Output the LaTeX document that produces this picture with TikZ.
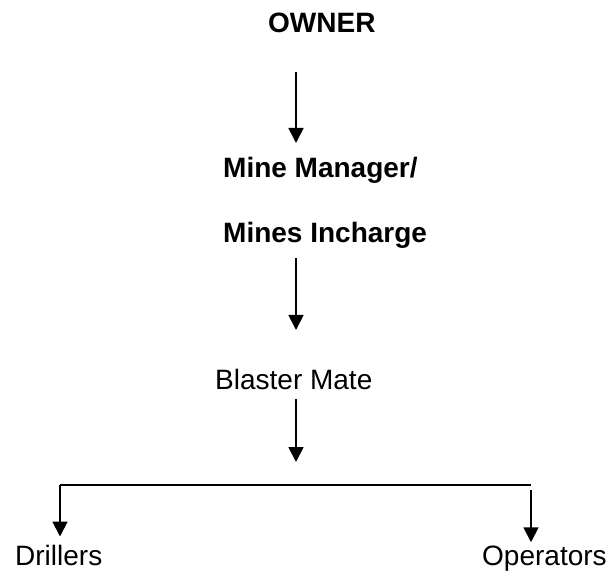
\documentclass[tikz,border=0pt]{standalone}
\usepackage{fontspec}
\setmainfont{Liberation Sans}
\usetikzlibrary{arrows.meta,positioning}

\begin{document}
\begin{tikzpicture}[x=1pt,y=1pt,
    lvl/.style={inner sep=0pt,anchor=base west,font=\fontsize{28}{34}\selectfont},
    boss/.style={lvl,font=\fontsize{28}{34}\selectfont\bfseries},
    arr/.style={-{Triangle[width=15pt,length=15pt]},line width=1.8pt},
    ln/.style={line width=1.8pt}]

  \useasboundingbox (0,0) rectangle (613,571);

  % levels
  \node[boss] (owner) at (268,538) {OWNER};
  \node[boss] (mgr)   at (223,393) {Mine Manager/};
  \node[boss] (inch)  at (223,328) {Mines Incharge};
  \node[lvl]  (mate)  at (215,182) {Blaster Mate};
  \node[lvl]  (drill) at (15,6)    {Drillers};
  \node[lvl]  (oper)  at (482,6)   {Operators};

  % arrow ends
  \coordinate (o1) at (296,499);
  \coordinate (m1) at (296,428);
  \coordinate (i1) at (296,313);
  \coordinate (b1) at (296,241);
  \coordinate (b2) at (296,172);
  \coordinate (b3) at (296,109);
  \coordinate (bl) at (60,86);
  \coordinate (br) at (531,86);
  \coordinate (ot) at (531,81);

  \draw[arr] (o1) -- (m1);
  \draw[arr] (i1) -- (b1);
  \draw[arr] (b2) -- (b3);
  \draw[ln] (br) -- (bl);
  \draw[arr,shorten >=8pt] (bl) -- (bl |- drill.north);
  \draw[arr,shorten >=3pt] (ot) -- (ot |- oper.north);
\end{tikzpicture}
\end{document}
